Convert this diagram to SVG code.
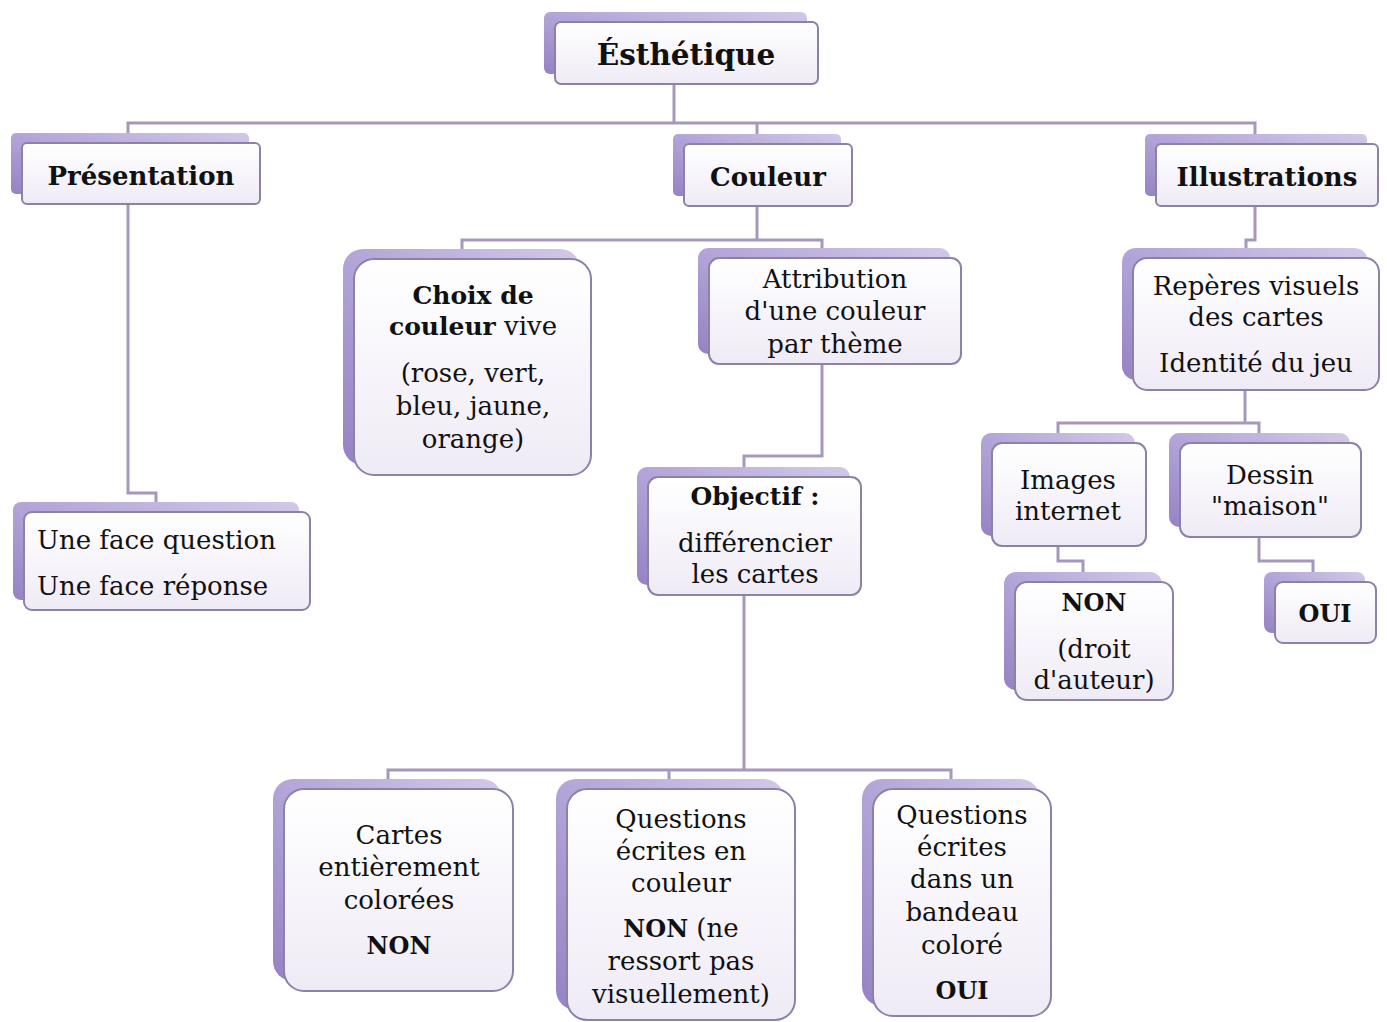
<svg xmlns="http://www.w3.org/2000/svg" width="1387" height="1022" viewBox="0 0 1387 1022">
<defs>
<linearGradient id="gBack" x1="0" y1="1" x2="1" y2="0">
<stop offset="0" stop-color="#9682c4"/>
<stop offset="0.5" stop-color="#b3a5d8"/>
<stop offset="1" stop-color="#d2c9e8"/>
</linearGradient>
<linearGradient id="gFront" x1="0" y1="0" x2="0" y2="1">
<stop offset="0" stop-color="#ffffff"/>
<stop offset="1" stop-color="#efebf6"/>
</linearGradient>
<style>
.back{fill:url(#gBack);stroke:none}
.front{fill:url(#gFront);stroke:#8d81a6;stroke-width:2}
.c{fill:none;stroke:#a598bb;stroke-width:3}
text{font-family:"DejaVu Serif","Liberation Serif",serif;fill:#111;font-size:26px}
.m{text-anchor:middle}
.b{font-weight:bold;font-size:24px}
.h{font-weight:bold;font-size:26px}
.b5{font-weight:bold;font-size:25px}
</style>
</defs>
<rect width="1387" height="1022" fill="#ffffff"/>
<g id="connectors">
<path class="c" d="M674 84 V123"/>
<path class="c" d="M128 143 V123 H1255 V144"/>
<path class="c" d="M757 123 V144"/>
<path class="c" d="M128 204 V493 H156 V512"/>
<path class="c" d="M757 206 V240"/>
<path class="c" d="M462 259 V240 H822 V258"/>
<path class="c" d="M822 364 V456 H744 V477"/>
<path class="c" d="M744 595 V770"/>
<path class="c" d="M388 789 V770 H951 V789"/>
<path class="c" d="M669 770 V789"/>
<path class="c" d="M1255 206 V240 H1246 V258"/>
<path class="c" d="M1245 390 V423"/>
<path class="c" d="M1058 443 V423 H1259 V443"/>
<path class="c" d="M1058 546 V561 H1083 V582"/>
<path class="c" d="M1259 537 V561 H1313 V582"/>
</g>
<g id="n-esthetique">
<rect class="back" x="544" y="12" width="263" height="62" rx="6"/>
<rect class="front" x="555" y="22" width="263" height="62" rx="6"/>
<text class="m h" x="686" y="65" style="font-size:29.5px">Ésthétique</text>
</g>
<g id="n-presentation">
<rect class="back" x="11" y="133" width="238" height="61" rx="5"/>
<rect class="front" x="22" y="143" width="238" height="61" rx="5"/>
<text class="m h" x="141" y="185">Présentation</text>
</g>
<g id="n-couleur">
<rect class="back" x="673" y="134" width="168" height="62" rx="5"/>
<rect class="front" x="684" y="144" width="168" height="62" rx="5"/>
<text class="m h" x="768" y="186">Couleur</text>
</g>
<g id="n-illustrations">
<rect class="back" x="1145" y="134" width="222" height="62" rx="5"/>
<rect class="front" x="1156" y="144" width="222" height="62" rx="5"/>
<text class="m h" x="1267" y="186">Illustrations</text>
</g>
<g id="n-uneface">
<rect class="back" x="13" y="502" width="286" height="98" rx="8"/>
<rect class="front" x="24" y="512" width="286" height="98" rx="8"/>
<text x="37" y="549">Une face question</text>
<text x="37" y="595">Une face réponse</text>
</g>
<g id="n-choix">
<rect class="back" x="343" y="249" width="237" height="216" rx="20"/>
<rect class="front" x="354" y="259" width="237" height="216" rx="20"/>
<text class="m b5" x="473" y="304">Choix de</text>
<text class="m" x="473" y="335"><tspan class="b5">couleur</tspan> vive</text>
<text class="m" x="473" y="382">(rose, vert,</text>
<text class="m" x="473" y="415">bleu, jaune,</text>
<text class="m" x="473" y="448">orange)</text>
</g>
<g id="n-attribution">
<rect class="back" x="698" y="248" width="252" height="106" rx="10"/>
<rect class="front" x="709" y="258" width="252" height="106" rx="10"/>
<text class="m" x="835" y="288">Attribution</text>
<text class="m" x="835" y="320">d'une couleur</text>
<text class="m" x="835" y="353">par thème</text>
</g>
<g id="n-objectif">
<rect class="back" x="637" y="467" width="213" height="118" rx="10"/>
<rect class="front" x="648" y="477" width="213" height="118" rx="10"/>
<text class="m b5" x="755" y="505">Objectif :</text>
<text class="m" x="755" y="552">différencier</text>
<text class="m" x="755" y="583">les cartes</text>
</g>
<g id="n-reperes">
<rect class="back" x="1122" y="248" width="246" height="132" rx="14"/>
<rect class="front" x="1133" y="258" width="246" height="132" rx="14"/>
<text class="m" x="1256" y="295">Repères visuels</text>
<text class="m" x="1256" y="326">des cartes</text>
<text class="m" x="1256" y="372">Identité du jeu</text>
</g>
<g id="n-images">
<rect class="back" x="981" y="433" width="154" height="103" rx="10"/>
<rect class="front" x="992" y="443" width="154" height="103" rx="10"/>
<text class="m" x="1068" y="489">Images</text>
<text class="m" x="1068" y="520">internet</text>
</g>
<g id="n-dessin">
<rect class="back" x="1169" y="433" width="181" height="94" rx="10"/>
<rect class="front" x="1180" y="443" width="181" height="94" rx="10"/>
<text class="m" x="1270" y="484">Dessin</text>
<text class="m" x="1270" y="515">"maison"</text>
</g>
<g id="n-non-images">
<rect class="back" x="1004" y="572" width="158" height="118" rx="12"/>
<rect class="front" x="1015" y="582" width="158" height="118" rx="12"/>
<text class="m b" x="1094" y="611">NON</text>
<text class="m" x="1094" y="658">(droit</text>
<text class="m" x="1094" y="689">d'auteur)</text>
</g>
<g id="n-oui-dessin">
<rect class="back" x="1264" y="572" width="101" height="61" rx="8"/>
<rect class="front" x="1275" y="582" width="101" height="61" rx="8"/>
<text class="m b" x="1325" y="622">OUI</text>
</g>
<g id="n-cartes">
<rect class="back" x="273" y="779" width="229" height="202" rx="20"/>
<rect class="front" x="284" y="789" width="229" height="202" rx="20"/>
<text class="m" x="399" y="844">Cartes</text>
<text class="m" x="399" y="876">entièrement</text>
<text class="m" x="399" y="909">colorées</text>
<text class="m b" x="399" y="954">NON</text>
</g>
<g id="n-qcouleur">
<rect class="back" x="556" y="779" width="228" height="231" rx="20"/>
<rect class="front" x="567" y="789" width="228" height="231" rx="20"/>
<text class="m" x="681" y="828">Questions</text>
<text class="m" x="681" y="860">écrites en</text>
<text class="m" x="681" y="892">couleur</text>
<text class="m" x="681" y="937"><tspan class="b">NON</tspan> (ne</text>
<text class="m" x="681" y="970">ressort pas</text>
<text class="m" x="681" y="1003">visuellement)</text>
</g>
<g id="n-qbandeau">
<rect class="back" x="862" y="779" width="178" height="227" rx="20"/>
<rect class="front" x="873" y="789" width="178" height="227" rx="20"/>
<text class="m" x="962" y="824">Questions</text>
<text class="m" x="962" y="856">écrites</text>
<text class="m" x="962" y="888">dans un</text>
<text class="m" x="962" y="921">bandeau</text>
<text class="m" x="962" y="954">coloré</text>
<text class="m b" x="962" y="999">OUI</text>
</g>
</svg>
